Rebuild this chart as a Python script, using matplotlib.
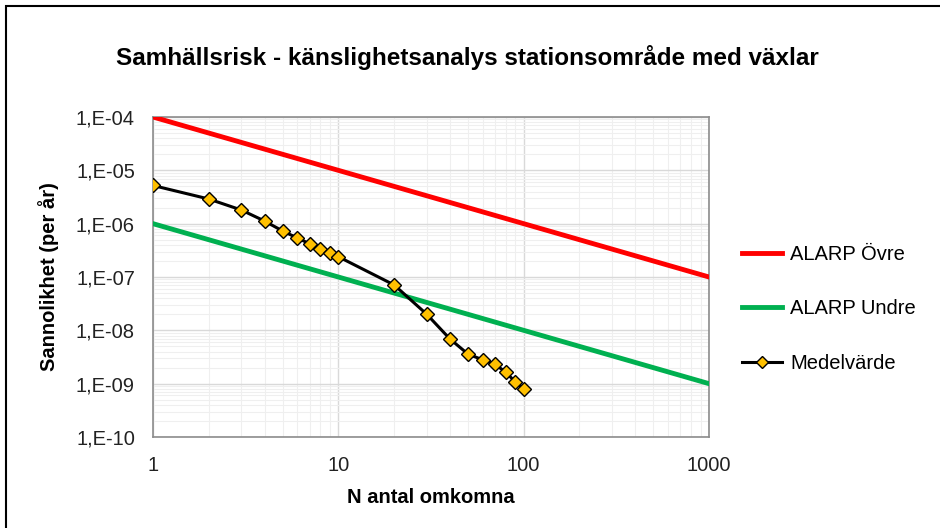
import numpy as np
import matplotlib.pyplot as plt
from matplotlib.ticker import FixedLocator, FuncFormatter, LogLocator, NullFormatter
from matplotlib.patches import Rectangle

plt.rcParams['font.family'] = ['Liberation Sans', 'DejaVu Sans']

# data
alarp_x = [1, 1000]
alarp_upper = [1e-4, 1e-7]
alarp_lower = [1e-6, 1e-9]

n_values = [1, 2, 3, 4, 5, 6, 7, 8, 9, 10, 20, 30, 40, 50, 60, 70, 80, 90, 100]
mean_values = [5.2e-6, 2.9e-6, 1.8e-6, 1.12e-6, 7.3e-7, 5.4e-7, 4.2e-7, 3.4e-7, 2.8e-7, 2.4e-7,
               7.1e-8, 2.0e-8, 6.9e-9, 3.6e-9, 2.8e-9, 2.3e-9, 1.65e-9, 1.08e-9, 7.9e-10]

fig = plt.figure(figsize=(9.4, 5.28), dpi=100)
ax = fig.add_axes([153/940, 1 - 437/528, (709-153)/940, (437-117)/528])

# outer frame (only top/left visible in the reference)
fig.patches.append(Rectangle((6/940, -0.05), 1.2, 1 - 6/528 + 0.05, transform=fig.transFigure,
                             fill=False, edgecolor='black', linewidth=1.5))

ax.plot(alarp_x, alarp_upper, color='#ff0000', linewidth=3.5, label='ALARP Övre', zorder=3)
ax.plot(alarp_x, alarp_lower, color='#00b050', linewidth=3.5, label='ALARP Undre', zorder=3)
ax.plot(n_values, mean_values, color='black', linewidth=2.2, marker='D', markersize=7.5,
        markerfacecolor='#ffc000', markeredgecolor='black', markeredgewidth=1.0,
        label='Medelvärde', zorder=4)

ax.set_xscale('log')
ax.set_yscale('log')
ax.set_xlim(1, 1000)
ax.set_ylim(1e-10, 1e-4)

ax.xaxis.set_major_locator(FixedLocator([1, 10, 100, 1000]))
ax.xaxis.set_major_formatter(FuncFormatter(lambda v, p: '%d' % v))
ax.xaxis.set_minor_locator(LogLocator(base=10, subs=np.arange(2, 10)))
ax.xaxis.set_minor_formatter(NullFormatter())
ax.yaxis.set_major_locator(FixedLocator([10.0 ** e for e in range(-10, -3)]))
ax.yaxis.set_major_formatter(FuncFormatter(lambda v, p: '1,E-%02d' % round(-np.log10(v))))
ax.yaxis.set_minor_locator(LogLocator(base=10, subs=np.arange(2, 10)))
ax.yaxis.set_minor_formatter(NullFormatter())

ax.grid(True, which='major', color='#d9d9d9', linewidth=1.0)
ax.grid(True, which='minor', color='#efefef', linewidth=0.8)
ax.set_axisbelow(True)
ax.tick_params(which='both', length=0, labelsize=14.5, colors='#222222')
ax.tick_params(axis='y', pad=13)
ax.tick_params(axis='x', pad=14)
for s in ax.spines.values():
    s.set_color('#8c8c8c')
    s.set_linewidth(1.2)

ax.set_xlabel('N antal omkomna', fontsize=14.5, fontweight='bold', labelpad=9)
ax.set_ylabel('Sannolikhet (per år)', fontsize=14.5, fontweight='bold', labelpad=12)
fig.text(467/940, 1 - 57/528, 'Samhällsrisk - känslighetsanalys stationsområde med växlar',
         ha='center', va='center', fontsize=17.5, fontweight='bold')

fig.legend(loc='center left', bbox_to_anchor=(724/940, 1 - 309/528), frameon=False,
           fontsize=14.5, handlelength=2.0, handletextpad=0.4, labelspacing=1.75,
           markerscale=0.8)

fig.savefig('out.png', dpi=100)
